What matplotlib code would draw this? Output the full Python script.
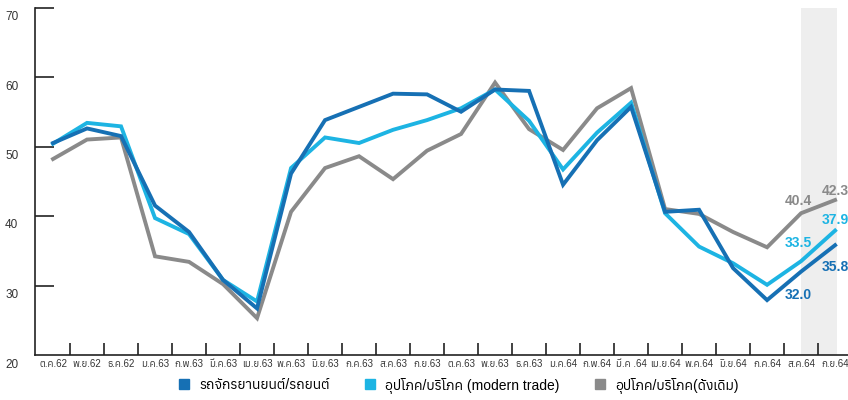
import matplotlib
matplotlib.use('Agg')
import matplotlib.pyplot as plt
from matplotlib.lines import Line2D
from matplotlib.transforms import ScaledTranslation

# Latin digits from Liberation Sans, Thai glyphs fall through to Anuphan
plt.rcParams['font.family'] = ['Liberation Sans', 'Anuphan', 'DejaVu Sans']

months = ['ต.ค.62', 'พ.ย.62', 'ธ.ค.62', 'ม.ค.63', 'ก.พ.63', 'มี.ค.63', 'เม.ย.63', 'พ.ค.63',
          'มิ.ย.63', 'ก.ค.63', 'ส.ค.63', 'ก.ย.63', 'ต.ค.63', 'พ.ย.63', 'ธ.ค.63', 'ม.ค.64',
          'ก.พ.64', 'มี.ค .64', 'เม.ย.64', 'พ.ค.64', 'มิ.ย.64', 'ก.ค.64', 'ส.ค.64', 'ก.ย.64']

vehicles = [50.5, 52.6, 51.5, 41.5, 37.7, 30.8, 26.7, 46.1, 53.8, 55.7, 57.6, 57.5,
            55.0, 58.2, 58.0, 44.5, 50.9, 55.7, 40.6, 40.9, 32.5, 27.9, 32.0, 35.8]
modern_trade = [50.4, 53.4, 52.9, 39.7, 37.4, 30.8, 27.7, 46.9, 51.3, 50.5, 52.4, 53.8,
                55.5, 58.2, 53.7, 46.7, 52.0, 56.3, 40.4, 35.6, 33.2, 30.1, 33.5, 37.9]
traditional = [48.2, 51.0, 51.3, 34.2, 33.4, 30.2, 25.3, 40.6, 46.9, 48.6, 45.3, 49.4,
               51.8, 59.2, 52.5, 49.5, 55.5, 58.4, 41.0, 40.3, 37.7, 35.5, 40.4, 42.3]

series_names = ['รถจักรยานยนต์/รถยนต์', 'อุปโภค/บริโภค (modern trade)', 'อุปโภค/บริโภค(ดั้งเดิม)']
colors = ['#1670b4', '#1db4e3', '#8a8a8a']
y_ticks = [20, 30, 40, 50, 60, 70]

fig = plt.figure(figsize=(8.48, 4.0), dpi=100)
ax = fig.add_axes([35 / 848, 45 / 400, 813 / 848, 347.5 / 400])

x = list(range(len(months)))
ax.axvspan(22, 23.05, color='#eeeeee', zorder=0, lw=0)

for vals, col, name in zip([traditional, modern_trade, vehicles], colors[::-1], series_names[::-1]):
    ax.plot(x, vals, color=col, lw=2.8, solid_joinstyle='miter', label=name, zorder=3)

# value labels on the last two months
label_offsets = {
    'vehicles': [(-3, -23), (0, -22)],
    'modern': [(-3, 18), (0, 11)],
    'trad': [(-3, 12), (0, 9)],
}
for vals, col, key in [(vehicles, colors[0], 'vehicles'), (modern_trade, colors[1], 'modern'),
                       (traditional, colors[2], 'trad')]:
    for i, off in zip([22, 23], label_offsets[key]):
        ax.annotate(f'{vals[i]:.1f}', (i, vals[i]), xytext=off, textcoords='offset pixels',
                    ha='center', va='center', color=col, fontsize=10, fontweight='bold',
                    annotation_clip=False, zorder=4)

ax.set_xlim(-0.53, 23.38)
ax.set_ylim(20, 70)

for s in ['top', 'right']:
    ax.spines[s].set_visible(False)
for s in ['left', 'bottom']:
    ax.spines[s].set_linewidth(1.2)
    ax.spines[s].set_color('#222222')

ax.set_yticks(y_ticks)
ax.tick_params(axis='y', direction='in', length=14, width=1.2, color='#222222',
               labelsize=8.5, labelcolor='#333333', pad=12)
yt = ax.yaxis.get_major_ticks()
yt[0].tick1line.set_visible(False)
yt[3].tick1line.set_color('#cccccc')
for lab in ax.get_yticklabels():
    lab.set_transform(lab.get_transform() + ScaledTranslation(0, -8 / 100, fig.dpi_scale_trans))

ax.set_xticks([i + 0.5 for i in x[:-1]])
ax.set_xticklabels([])
ax.set_xticks(x, minor=True)
ax.set_xticklabels(months, minor=True)
ax.tick_params(axis='x', which='major', direction='in', length=9, width=1.2, color='#222222')
ax.tick_params(axis='x', which='minor', length=0, labelsize=7, labelcolor='#333333', pad=3)

sq = [Line2D([], [], ls='none', marker='s', markersize=7, color=c) for c in colors]
fig.legend(sq, series_names, loc='center', bbox_to_anchor=(458 / 848, 15 / 400), ncol=3,
           frameon=False, fontsize=10, handlelength=1.0, handletextpad=0.6, columnspacing=2.4)

fig.savefig('out.png', dpi=100)
